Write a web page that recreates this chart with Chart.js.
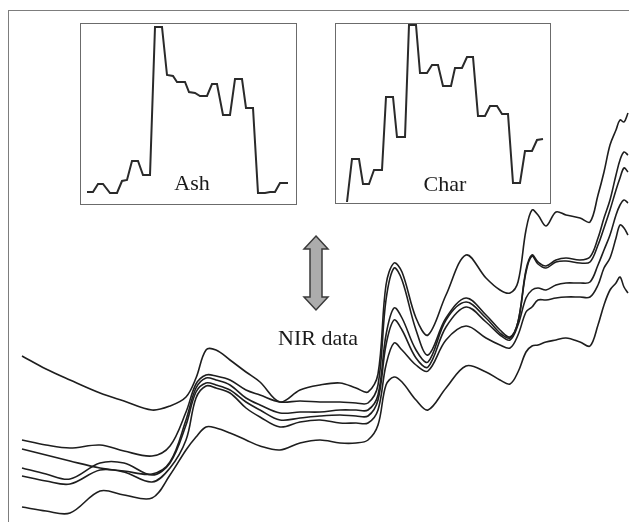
<!DOCTYPE html>
<html>
<head>
<meta charset="utf-8">
<script src="https://cdn.jsdelivr.net/npm/chart.js@4/dist/chart.umd.min.js"></script>
<style>
  body { margin: 0; background: #fff; }
  #wrap { position: relative; width: 629px; height: 522px; overflow: hidden; }
  #frame { position: absolute; left: 8px; top: 10px; right: 0; bottom: 0;
           border-top: 1.5px solid #7d7d7d; border-left: 1.5px solid #7d7d7d; }
  #main { position: absolute; left: 0; top: 0; }
  .inset { position: absolute; background: #fff; border: 1.5px solid #6b6b6b; box-sizing: border-box; }
  .inset canvas { position: absolute; left: -1.5px; top: -1.5px; }
  .lbl { position: absolute; font: 22px "Liberation Serif", "Times New Roman", serif;
         line-height: 22px; color: #1a1a1a; white-space: nowrap; }
</style>
</head>
<body>
<div id="wrap">
  <div id="frame"></div>
  <canvas id="main" width="629" height="522"></canvas>
  <div class="inset" style="left:80px;top:23px;width:217px;height:182px">
    <canvas id="ash" width="217" height="182"></canvas>
  </div>
  <div class="inset" style="left:335px;top:23px;width:216px;height:181px">
    <canvas id="char" width="216" height="181"></canvas>
  </div>
  <div class="lbl" style="left:142px;top:172px;width:100px;text-align:center">Ash</div>
  <div class="lbl" style="left:395px;top:173px;width:100px;text-align:center">Char</div>
  <div class="lbl" style="left:278px;top:327px">NIR data</div>
</div>
<script>
// ================= NIR SPECTRA =================
const wavelength = [1000, 1060, 1120, 1195, 1255, 1325, 1370, 1410, 1435, 1460, 1485, 1520, 1560, 1595,
  1645, 1695, 1745, 1795, 1835, 1865, 1890, 1910, 1930, 1950, 1985, 2015, 2060, 2110, 2160, 2195,
  2220, 2240, 2260, 2275, 2290, 2310, 2335, 2360, 2395, 2420, 2440, 2455, 2470, 2485, 2495, 2505, 2515];

const sample1 = [166, 153, 142, 129, 121, 112, 116, 125, 144, 172, 172, 162, 150, 140, 120, 132, 137, 139, 134, 130,
  148, 237, 259, 250, 204, 187, 227, 267, 244, 232, 229, 240, 292, 312, 307, 296, 310, 307, 304, 300,
  327, 350, 377, 392, 402, 400, 409];
const sample2 = [82, 77, 74, 77, 71, 66, 76, 110, 138, 147, 146, 142, 132, 127, 120, 121, 120, 120, 119, 119,
  137, 222, 254, 242, 192, 167, 204, 224, 207, 192, 185, 200, 252, 267, 260, 256, 262, 264, 262, 265,
  284, 304, 322, 347, 362, 370, 367];
const sample3 = [73, 67, 61, 54, 51, 48, 60, 102, 134, 144, 142, 137, 124, 117, 109, 110, 110, 112, 112, 112,
  127, 187, 214, 204, 172, 160, 202, 220, 204, 189, 184, 200, 250, 266, 258, 254, 260, 261, 259, 260,
  277, 294, 312, 332, 344, 354, 350];
const sample4 = [54, 48, 43, 59, 59, 47, 59, 97, 130, 139, 137, 132, 120, 112, 102, 104, 106, 107, 106, 106,
  122, 177, 202, 192, 164, 155, 195, 215, 200, 187, 182, 197, 224, 232, 234, 232, 237, 239, 239, 240,
  257, 272, 287, 307, 317, 322, 319];
const sample5 = [46, 41, 38, 52, 50, 40, 54, 82, 124, 136, 134, 129, 114, 105, 95, 100, 102, 99, 99, 99,
  112, 157, 179, 172, 157, 151, 182, 196, 184, 177, 174, 187, 210, 215, 222, 222, 224, 225, 225, 225,
  237, 254, 264, 284, 297, 294, 287];
const sample6 = [15, 11, 9, 31, 27, 24, 47, 72, 85, 95, 94, 89, 82, 76, 72, 79, 82, 79, 79, 82,
  97, 137, 145, 140, 122, 112, 134, 156, 150, 142, 138, 150, 170, 176, 177, 180, 182, 184, 180, 176,
  197, 217, 232, 239, 245, 235, 229];

// ================= INSETS (regression coefficients) =================
const ashX = [7, 13, 18, 23, 30, 37, 42, 47, 52, 58, 63, 70, 75, 82, 87, 93, 97, 105, 109, 115,
  120, 127, 132, 137, 143, 150, 155, 162, 166, 173, 178, 185, 190, 195, 200, 208];
const ashY = [13, 13, 21, 21, 12, 12, 24, 25, 44, 44, 30, 30, 178, 178, 130, 129, 123, 123, 113, 112,
  109, 109, 121, 121, 90, 90, 126, 126, 97, 97, 12, 12, 13, 13, 22, 22];

const charX = [12, 17, 24, 28, 34, 39, 47, 51, 58, 62, 70, 74, 81, 85, 92, 97, 103, 108, 116, 120,
  127, 132, 138, 143, 150, 155, 162, 167, 173, 178, 185, 190, 197, 202, 208];
const charY = [2, 45, 45, 20, 20, 34, 34, 107, 107, 67, 67, 179, 179, 131, 131, 139, 139, 118, 118, 136,
  136, 147, 147, 88, 88, 98, 98, 90, 90, 21, 21, 53, 53, 64, 65];

function pts(xs, ys) {
    return xs.map((x, i) => ({ x: x, y: ys[i] }));
}

// double arrow between the insets and the spectra
const arrowPlugin = {
    id: 'arrow',
    afterDraw(chart) {
        const c = chart.ctx;
        c.save();
        c.beginPath();
        c.moveTo(316, 236);
        c.lineTo(328, 249);
        c.lineTo(322, 249);
        c.lineTo(322, 297);
        c.lineTo(328, 297);
        c.lineTo(316, 310);
        c.lineTo(304, 297);
        c.lineTo(310, 297);
        c.lineTo(310, 249);
        c.lineTo(304, 249);
        c.closePath();
        c.fillStyle = '#acacac';
        c.fill();
        c.lineWidth = 1.5;
        c.strokeStyle = '#3a3a3a';
        c.lineJoin = 'miter';
        c.stroke();
        c.restore();
    }
};

const spectra = [sample1, sample2, sample3, sample4, sample5, sample6];

new Chart(document.getElementById('main'), {
    type: 'line',
    data: {
        datasets: spectra.map((s, i) => ({
            label: 'Sample ' + (i + 1),
            data: pts(wavelength, s),
            borderColor: '#1e1e1e',
            borderWidth: 1.6,
            tension: 0.35,
            pointRadius: 0,
            fill: false
        }))
    },
    options: {
        responsive: false,
        animation: false,
        devicePixelRatio: 1,
        layout: { padding: 0 },
        plugins: { legend: { display: false }, tooltip: { enabled: false } },
        scales: {
            x: { type: 'linear', min: 945, max: 2517.5, display: false },
            y: { min: 0, max: 522, display: false }
        }
    },
    plugins: [arrowPlugin]
});

function inset(id, xs, ys, w, h) {
    new Chart(document.getElementById(id), {
        type: 'line',
        data: {
            datasets: [{
                data: pts(xs, ys),
                borderColor: '#2a2a2a',
                borderWidth: 2,
                tension: 0,
                pointRadius: 0,
                clip: false
            }]
        },
        options: {
            responsive: false,
            animation: false,
            devicePixelRatio: 1,
            layout: { padding: 0 },
            plugins: { legend: { display: false }, tooltip: { enabled: false } },
            scales: {
                x: { type: 'linear', min: 0, max: w, display: false },
                y: { min: 0, max: h, display: false }
            }
        }
    });
}

inset('ash', ashX, ashY, 217, 182);
inset('char', charX, charY, 216, 181);
</script>
</body>
</html>
